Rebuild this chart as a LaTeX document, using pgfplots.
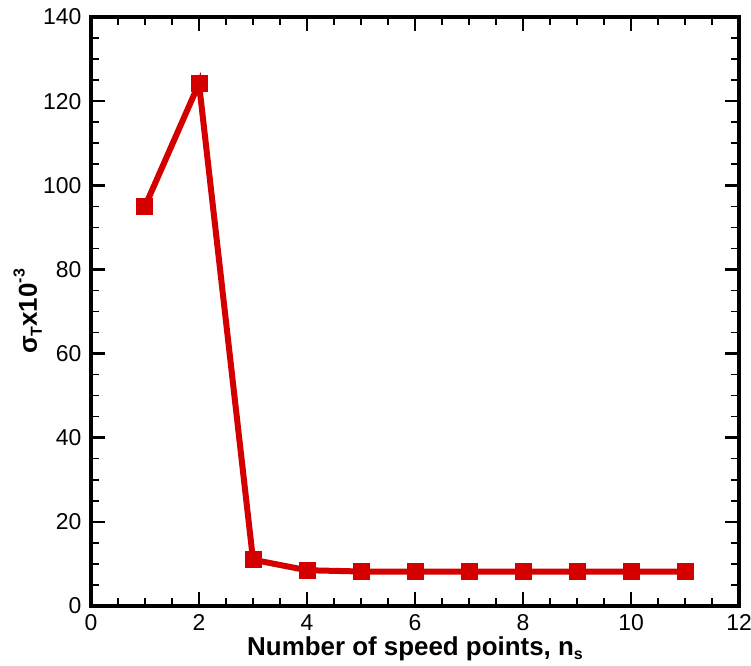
\documentclass[border=0pt]{standalone}
\usepackage{pgfplots}
\pgfplotsset{compat=1.18}
\usepackage{fontspec}
\setmainfont{Liberation Sans}
\definecolor{curvered}{RGB}{212,0,0}
\begin{document}
\begin{tikzpicture}
\begin{axis}[
  scale only axis,
  width=648bp, height=589bp,
  xmin=0, xmax=12, ymin=0, ymax=140,
  xtick={0,2,...,12}, ytick={0,20,...,140},
  minor x tick num=3, minor y tick num=3,
  tick align=inside,
  tick pos=both,
  major tick length=14bp, minor tick length=8bp,
  every major tick/.style={line width=2.6bp, black},
  every minor tick/.style={line width=1.5bp, black},
  axis line style={line width=3.5bp},
  /pgf/number format/assume math mode=true,
  tick label style={font=\fontsize{23}{27}\selectfont},
  xticklabel style={yshift=-5bp},
  yticklabel style={xshift=-6bp},
  xlabel={\fontsize{26}{30}\selectfont\bfseries Number of speed points, n\raisebox{-0.35ex}{\fontsize{16}{18}\selectfont s}},
  ylabel={\fontsize{26}{30}\selectfont\bfseries σ\raisebox{-0.35ex}{\fontsize{16}{18}\selectfont T}x10\raisebox{0.9ex}{\fontsize{16}{18}\selectfont -3}},
  xlabel style={at={([yshift=-49bp]axis description cs:0.5,0)}, anchor=base},
  ylabel style={at={([xshift=-54bp]axis description cs:0,0.5)}, anchor=base, rotate=0},
  clip=false,
]
\addplot[curvered, line width=6bp, mark=square*, mark size=8bp,
  mark options={solid, line width=0pt, fill=curvered}]
  coordinates {
    (1,95.0) (2,124.2) (3,11.0) (4,8.5) (5,8.2) (6,8.2)
    (7,8.2) (8,8.2) (9,8.2) (10,8.2) (11,8.2)
  };
\end{axis}
\pgfresetboundingbox
\path (-91bp,-60bp) rectangle (660bp,606bp);
\end{tikzpicture}
\end{document}
